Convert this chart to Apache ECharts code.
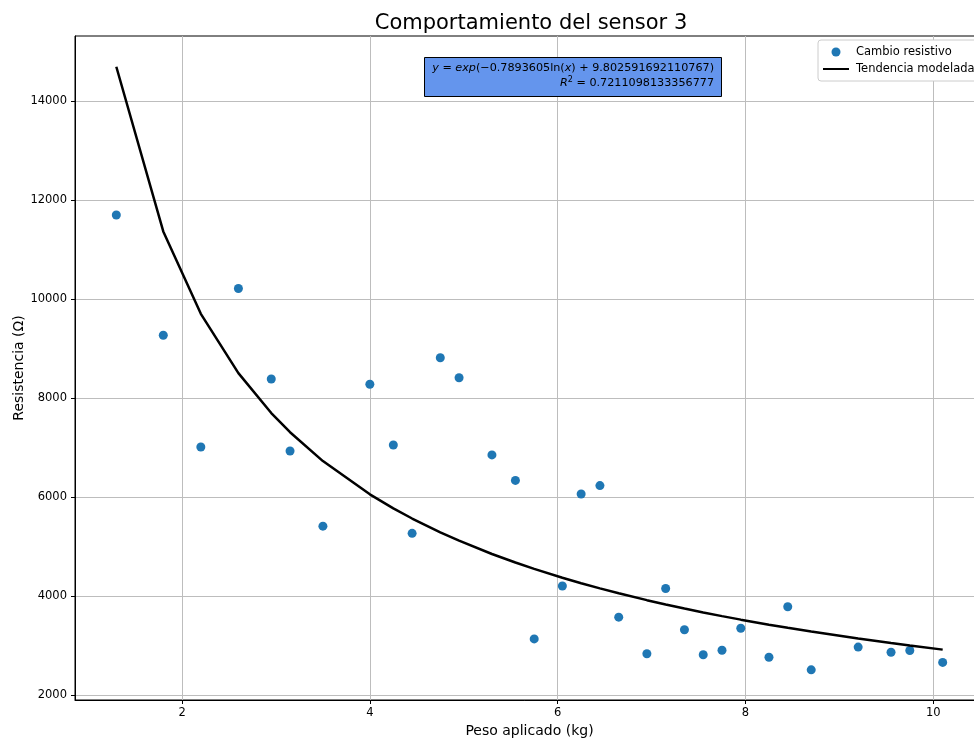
<!DOCTYPE html>
<html>
<head>
<meta charset="utf-8">
<title>Comportamiento del sensor 3</title>
<script src="https://cdn.jsdelivr.net/npm/echarts@6/dist/echarts.min.js"></script>
<style>
  html, body { margin: 0; padding: 0; background: #fff; }
  #chart { width: 974px; height: 740px; }
</style>
</head>
<body>
<div id="chart"></div>
<script>
// Measured samples: applied weight (kg) and sensor resistance (ohm)
const pesoKg = [1.3, 1.8, 2.2, 2.6, 2.95, 3.15, 3.5, 4.0, 4.25, 4.45, 4.75, 4.95,
                5.3, 5.55, 5.75, 6.05, 6.25, 6.45, 6.65, 6.95, 7.15, 7.35, 7.55, 7.75,
                7.95, 8.25, 8.45, 8.7, 9.2, 9.55, 9.75, 10.1];
const resistencia = [11700, 9270, 7010, 10215, 8385, 6930, 5410, 8280, 7050, 5265, 8815, 8410,
                     6850, 6335, 3130, 4200, 6060, 6230, 3570, 2830, 4150, 3315, 2810, 2900,
                     3345, 2760, 3780, 2505, 2965, 2860, 2895, 2655];

// Fitted power-law model: y = exp(a*ln(x) + b)
const coefA = -0.7893605;
const coefB = 9.802591692110767;
const r2Text = '0.7211098133356777';

const xTicks = [2, 4, 6, 8, 10];
const yTicks = [2000, 4000, 6000, 8000, 10000, 12000, 14000];

const tendencia = pesoKg.map(x => Math.exp(coefA * Math.log(x) + coefB));

const FONT = 'DejaVu Sans';
const chart = echarts.init(document.getElementById('chart'), null, { renderer: 'canvas' });

chart.setOption({
  backgroundColor: '#ffffff',
  animation: false,
  textStyle: { fontFamily: FONT },
  title: {
    text: 'Comportamiento del sensor 3',
    left: 526,
    textAlign: 'center',
    top: 8,
    textStyle: { fontFamily: FONT, fontSize: 21, fontWeight: 'normal', color: '#000' }
  },
  grid: {
    left: 75, right: -10, top: 36, bottom: 40,
    outerBoundsMode: 'none',
    containLabel: false,
    show: true, borderColor: '#000', borderWidth: 1, backgroundColor: 'transparent'
  },
  legend: {
    left: 818, top: 40,
    orient: 'vertical',
    padding: [6, 8, 6, 4],
    itemGap: 5,
    itemWidth: 26,
    itemHeight: 9,
    backgroundColor: '#fff',
    borderColor: '#cccccc',
    borderWidth: 1,
    borderRadius: 3,
    textStyle: { fontFamily: FONT, fontSize: 11.5, color: '#000', padding: [0, 0, 0, 2] },
    data: [
      { name: 'Cambio resistivo', icon: 'circle' },
      { name: 'Tendencia modelada', itemStyle: { color: 'rgba(0,0,0,0)', borderWidth: 0, opacity: 0 } }
    ]
  },
  xAxis: {
    type: 'value',
    min: 0.86, max: 10.54,
    name: 'Peso aplicado (kg)',
    nameLocation: 'middle',
    nameGap: 24,
    nameMoveOverlap: false,
    nameTextStyle: { fontFamily: FONT, fontSize: 14, color: '#000' },
    axisLine: { show: true, onZero: false, lineStyle: { color: '#000', width: 1 } },
    axisTick: { show: true, inside: false, length: 4, lineStyle: { color: '#000' }, customValues: xTicks },
    axisLabel: { customValues: xTicks, margin: 7, fontFamily: FONT, fontSize: 11.5, color: '#000',
                 formatter: v => String(v) },
    splitLine: { show: true, lineStyle: { color: '#bdbdbd', width: 1 } }
  },
  yAxis: {
    type: 'value',
    min: 1895, max: 15320,
    name: 'Resistencia (Ω)',
    nameLocation: 'middle',
    nameGap: 49,
    nameMoveOverlap: false,
    nameTextStyle: { fontFamily: FONT, fontSize: 14, color: '#000' },
    axisLine: { show: true, onZero: false, lineStyle: { color: '#000', width: 1 } },
    axisTick: { show: true, inside: false, length: 4, lineStyle: { color: '#000' }, customValues: yTicks },
    axisLabel: { customValues: yTicks, margin: 8, fontFamily: FONT, fontSize: 11.5, color: '#000',
                 formatter: v => String(v) },
    splitLine: { show: true, lineStyle: { color: '#bdbdbd', width: 1 } }
  },
  graphic: [
    {
      type: 'rect',
      left: 424, top: 57,
      shape: { width: 297, height: 39 },
      style: { fill: '#6495ED', stroke: '#000', lineWidth: 1 },
      z: 100
    },
    {
      type: 'text',
      x: 714, y: 61,
      z: 101,
      style: {
        text: '{i|y} = {i|exp}(−0.7893605ln({i|x}) + 9.802591692110767)\n{i|R}{s|2} = ' + r2Text,
        align: 'right',
        verticalAlign: 'top',
        font: '11.2px "DejaVu Sans"',
        fill: '#000',
        lineHeight: 15,
        rich: {
          i: { fontStyle: 'italic', fontFamily: FONT, fontSize: 11.2, fill: '#000', lineHeight: 15 },
          s: { fontFamily: FONT, fontSize: 8, fill: '#000', verticalAlign: 'top', lineHeight: 15 }
        }
      }
    }
  ],
  series: [
    {
      name: 'Cambio resistivo',
      type: 'scatter',
      symbol: 'circle',
      symbolSize: 9,
      itemStyle: { color: '#1f77b4', opacity: 1 },
      data: pesoKg.map((x, i) => [x, resistencia[i]]),
      z: 3
    },
    {
      name: 'Tendencia modelada',
      type: 'line',
      symbol: 'none',
      showSymbol: false,
      smooth: false,
      lineStyle: { color: '#000', width: 2.5 },
      itemStyle: { color: '#000' },
      data: pesoKg.map((x, i) => [x, tendencia[i]]),
      z: 4
    }
  ]
});
</script>
</body>
</html>
